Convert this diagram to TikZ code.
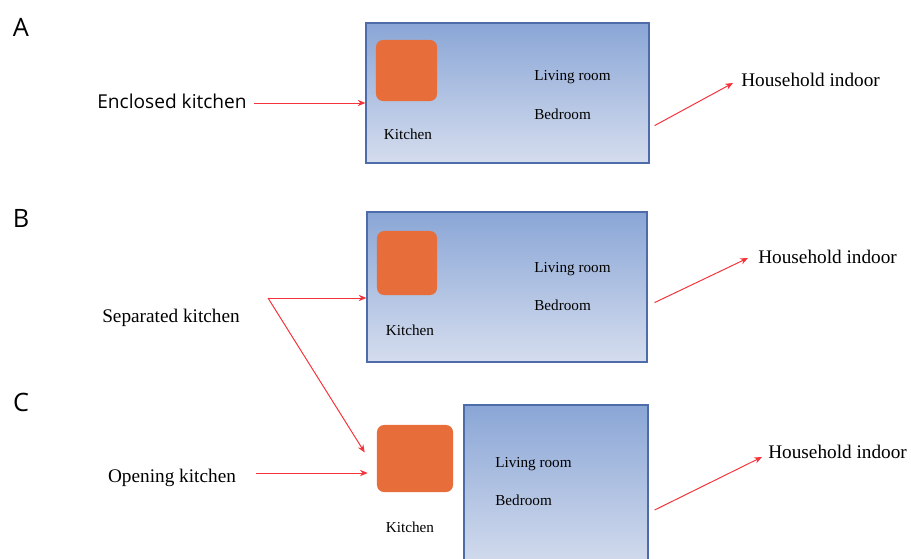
\documentclass[tikz,border=0pt]{standalone}
\usepackage{fontspec}
\setmainfont{Liberation Serif}
\newfontfamily\panelsans{Open Sans}
\definecolor{roomtop}{HTML}{8AA6D6}
\definecolor{roombot}{HTML}{D5DDEE}
\definecolor{roomedge}{HTML}{4F6CAA}
\definecolor{stove}{HTML}{E76D3A}
\definecolor{arrred}{HTML}{F4333A}
\usepackage{tikz}
\usetikzlibrary{arrows.meta}

\begin{document}
\begin{tikzpicture}[x=0.025cm, y=-0.025cm, >={Stealth[length=5.5pt, width=4.5pt]},
    room/.style={draw=roomedge, line width=0.8pt, top color=roomtop, bottom color=roombot, inner sep=0},
    kitbox/.style={fill=stove, rounded corners=5pt, inner sep=0},
    small/.style={font=\fontsize{10.8}{12}\selectfont, inner sep=0},
    big/.style={font=\fontsize{13.7}{16}\selectfont, inner sep=0},
    arr/.style={->, arrred, line width=0.7pt}]
        \clip (0,0) rectangle (911,558);
        % A
        \node[font=\panelsans\fontsize{18}{20}\selectfont] (labA) at (21,27) {A};
        \node[room, minimum width=7.075cm, minimum height=3.5cm] (roomA) at (507.5,93) {};
        \node[kitbox, minimum width=1.525cm, minimum height=1.525cm] (kitA) at (406.5,70.5) {};
        \node[small] (ktxA) at (408,134) {Kitchen};
        \node[small, anchor=west] (livA) at (534,77) {Living room};
        \node[small, anchor=west] (bedA) at (534,114) {Bedroom};
        \node[font=\panelsans\fontsize{13.6}{16}\selectfont, inner sep=0] (enc) at (172,101) {Enclosed kitchen};
        \node[big, anchor=west] (hhA) at (741,80) {Household indoor};
        \draw[arr] ([shift={(7,0)}]enc.east |- 0,103) -- (roomA.west |- 0,103);
        \draw[arr] ([shift={(5,-38)}]roomA.south east) -- ([shift={(-8,3)}]hhA.west);

        % B
        \node[font=\panelsans\fontsize{18}{20}\selectfont] (labB) at (21,218) {B};
        \node[room, minimum width=7cm, minimum height=3.75cm] (roomB) at (507,287) {};
        \node[kitbox, minimum width=1.5cm, minimum height=1.6cm] (kitB) at (407,263) {};
        \node[small] (ktxB) at (410,330) {Kitchen};
        \node[small, anchor=west] (livB) at (534,269) {Living room};
        \node[small, anchor=west] (bedB) at (534,305) {Bedroom};
        \node[big] (sep) at (171,318) {Separated kitchen};
        \node[big, anchor=west] (hhB) at (758,257) {Household indoor};
        \coordinate (split) at (268,298);
        \draw[arr] (split) -- (split -| roomB.west);
        \draw[arr] ([shift={(7,-60)}]roomB.south east) -- ([shift={(-10,1)}]hhB.west);

        % C
        \node[font=\panelsans\fontsize{18}{20}\selectfont] (labC) at (21,402) {C};
        \node[room, minimum width=4.6cm, minimum height=4.125cm] (roomC) at (556,487.5) {};
        \node[kitbox, minimum width=1.9cm, minimum height=1.675cm] (kitC) at (415,458.5) {};
        \node[small] (ktxC) at (410,527) {Kitchen};
        \node[small, anchor=west] (livC) at (495,464) {Living room};
        \node[small, anchor=west] (bedC) at (495,500) {Bedroom};
        \node[big] (opn) at (172,478) {Opening kitchen};
        \node[big, anchor=west] (hhC) at (768,452) {Household indoor};
        \draw[arr] (split) -- ([shift={(-12,-6)}]kitC.west);
        \draw[arr] ([shift={(20,0)}]opn.east |- 0,473) -- ([shift={(-9,0)}]kitC.west |- 0,473);
        \draw[arr] ([shift={(6,22.5)}]roomC.east) -- ([shift={(-6,5)}]hhC.west);
\end{tikzpicture}
\end{document}
